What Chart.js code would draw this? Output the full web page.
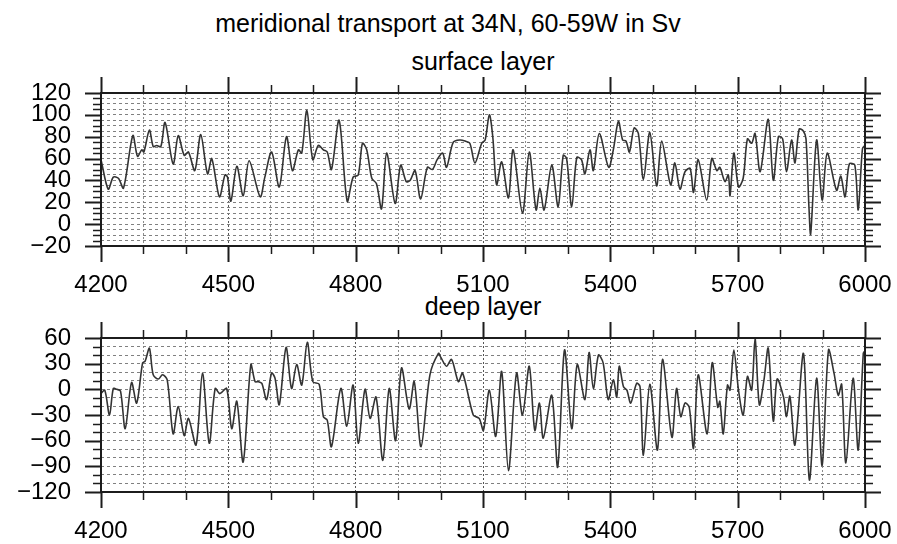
<!DOCTYPE html>
<html>
<head>
<meta charset="utf-8">
<script src="https://cdn.jsdelivr.net/npm/chart.js@4/dist/chart.umd.min.js"></script>
<style>
html,body{margin:0;padding:0;background:#fff;}
#wrap{position:relative;width:897px;height:544px;overflow:hidden;font-family:"Liberation Sans",Arial,sans-serif;color:#000;}
.t{position:absolute;white-space:nowrap;font-size:25px;line-height:25px;transform:translateX(-50%);}
.box{position:absolute;left:0;width:897px;}
canvas{display:block;}
</style>
</head>
<body>
<div id="wrap">
  <div class="t" style="left:448px;top:11px;">meridional transport at 34N, 60-59W in Sv</div>
  <div class="t" style="left:483px;top:49px;">surface layer</div>
  <div class="t" style="left:483px;top:294px;">deep layer</div>
  <div class="box" style="top:0;height:300px;"><canvas id="c1" width="897" height="300"></canvas></div>
  <div class="box" style="top:300px;height:244px;"><canvas id="c2" width="897" height="244"></canvas></div>
</div>
<script>
// ---- data ----
const surfaceYears = [4200,4217,4229,4241,4253,4275,4286,4296,4301,4314,4323,4331,4341,4351,4370,4382,4396,4406,4421,4435,4451,4461,4479,4492,4498,4506,4520,4535,4549,4575,4586,4602,4620,4637,4651,4665,4673,4685,4699,4712,4724,4733,4743,4761,4780,4794,4806,4816,4826,4838,4849,4861,4873,4893,4906,4919,4928,4940,4953,4969,4981,4992,5005,5014,5030,5046,5058,5069,5081,5097,5105,5115,5123,5132,5144,5160,5171,5193,5209,5225,5234,5244,5262,5277,5289,5297,5309,5321,5332,5340,5352,5360,5374,5396,5407,5419,5429,5437,5445,5456,5466,5478,5493,5509,5521,5542,5552,5564,5576,5588,5596,5607,5627,5639,5651,5658,5670,5678,5682,5691,5702,5713,5723,5733,5741,5753,5772,5784,5796,5806,5815,5827,5835,5845,5855,5861,5868,5872,5886,5899,5911,5933,5943,5953,5963,5976,5984,5994,6000];
const surfaceValues = [59,32,43,42,33,81,62,68,66,86,71,72,71,93,55,81,63,66,49,82,46,60,25,45,43,21,53,26,58,25,43,66,34,80,49,68,65,104,59,72,68,66,50,95,21,43,45,74,68,42,37,14,65,19,54,39,40,49,23,52,50,59,65,52,75,77,76,74,56,74,77,100,80,36,57,24,68,10,66,13,33,13,54,16,63,60,16,61,59,46,68,49,83,52,68,94,77,76,66,88,83,41,84,35,76,36,56,32,48,51,29,59,22,60,49,52,39,45,26,65,34,42,78,74,83,48,96,40,80,78,48,77,56,87,85,78,15,-9,77,22,65,31,44,25,55,54,13,69,72];

const deepYears = [4200,4209,4220,4229,4237,4246,4257,4272,4284,4298,4304,4314,4323,4335,4345,4356,4370,4382,4396,4406,4424,4439,4455,4469,4480,4496,4508,4520,4535,4553,4563,4571,4579,4590,4602,4610,4620,4636,4649,4661,4673,4686,4699,4714,4724,4733,4743,4765,4779,4794,4806,4822,4834,4848,4864,4879,4894,4908,4926,4938,4954,4975,4995,5000,5014,5026,5042,5052,5077,5091,5101,5115,5130,5144,5160,5179,5193,5209,5222,5233,5242,5262,5276,5292,5309,5322,5340,5350,5360,5372,5383,5395,5407,5415,5421,5431,5439,5448,5462,5470,5478,5493,5511,5523,5545,5556,5566,5576,5586,5596,5607,5628,5640,5653,5658,5666,5676,5682,5691,5702,5713,5723,5733,5741,5751,5762,5772,5784,5793,5808,5815,5823,5835,5855,5869,5886,5899,5914,5927,5937,5945,5955,5972,5984,5996,6000];
const deepValues = [-5,-1,-30,1,0,-2,-46,8,-16,31,33,48,17,12,17,11,-52,-20,-54,-34,-65,19,-63,1,-5,1,-46,-14,-85,29,9,9,7,-12,19,13,-18,49,1,29,5,55,9,6,-32,-36,-67,1,-43,5,-63,0,-34,-9,-83,1,-60,25,-23,9,-67,17,42,38,27,35,9,19,-30,-34,-48,-1,-55,21,-95,19,-30,27,-48,-16,-57,-7,-91,46,-46,29,-12,43,1,40,31,-12,11,-9,27,3,-1,-16,7,3,-77,6,-71,35,-56,1,-32,-16,-21,-69,17,-52,31,-21,-14,-52,5,-1,46,-1,-30,15,-1,60,-18,11,48,-37,12,-9,-32,-8,-65,42,-106,13,-89,46,19,-7,6,-86,13,-71,42,45];

// axis settings
const xRange = [4200, 6000];
const xMinorStep = 100, xMajorStep = 300;
const surfaceRange = [-20, 120], surfaceMinor = 5, surfaceMajor = 20;
const deepRange = [-120, 60], deepMinor = 10, deepMajor = 30;

// ---- frame + outward tick marks, drawn from the chart's own scales ----
const framePlugin = {
  id: 'frame',
  afterDraw(chart, args, o) {
    const {ctx, chartArea: a, scales: {x, y}} = chart;
    ctx.save();
    ctx.strokeStyle = '#1c1c1c';
    ctx.setLineDash([]);
    const near = (v, m) => Math.abs(v / m - Math.round(v / m)) < 1e-6;
    for (let v = o.xMin; v <= o.xMax + 1e-6; v += o.xStep) {
      const px = Math.round(x.getPixelForValue(v)) + 0.5;
      const major = near(v, o.xMajor);
      const len = major ? 16 : 8;
      ctx.lineWidth = major ? 2 : 1.5;
      ctx.beginPath();
      ctx.moveTo(px, a.bottom); ctx.lineTo(px, a.bottom + len);
      ctx.moveTo(px, a.top); ctx.lineTo(px, a.top - len);
      ctx.stroke();
    }
    for (let v = o.yMin; v <= o.yMax + 1e-6; v += o.yStep) {
      const py = Math.round(y.getPixelForValue(v)) + 0.5;
      const major = near(v, o.yMajor);
      const len = major ? 16 : 8;
      ctx.lineWidth = major ? 2 : 1.5;
      ctx.beginPath();
      ctx.moveTo(a.left - len, py); ctx.lineTo(a.left, py);
      ctx.moveTo(a.right, py); ctx.lineTo(a.right + len, py);
      ctx.stroke();
    }
    ctx.lineWidth = 2;
    ctx.strokeRect(a.left, a.top, a.right - a.left, a.bottom - a.top);
    ctx.restore();
  }
};

const fam = '"Liberation Sans", Arial, sans-serif';
const fmt = v => String(v).replace('-', '\u2212');

function makeChart(id, years, values, yRange, yMinor, yMajor, padTop, xHeight) {
  const pts = years.map((yr, i) => ({x: yr, y: values[i]}));
  return new Chart(document.getElementById(id), {
    type: 'line',
    data: {
      datasets: [{
        data: pts,
        borderColor: '#333333',
        borderWidth: 1.6,
        pointRadius: 0,
        tension: 0.3,
        fill: false
      }]
    },
    options: {
      responsive: false,
      animation: false,
      events: [],
      layout: {padding: {top: padTop, right: 32, left: 0, bottom: 0}},
      plugins: {
        legend: {display: false},
        tooltip: {enabled: false},
        frame: {xMin: xRange[0], xMax: xRange[1], xStep: xMinorStep, xMajor: xMajorStep,
                yMin: yRange[0], yMax: yRange[1], yStep: yMinor, yMajor: yMajor}
      },
      scales: {
        x: {
          type: 'linear',
          min: xRange[0], max: xRange[1],
          afterFit: s => { s.height = xHeight; s.paddingLeft = 0; s.paddingRight = 0; },
          ticks: {
            stepSize: xMinorStep, autoSkip: false, maxRotation: 0,
            padding: 25, color: '#000',
            font: {family: fam, size: 24},
            callback: v => (v % xMajorStep === 0 ? fmt(v) : '')
          },
          grid: {
            drawTicks: false,
            color: c => (c.tick && c.tick.value % xMajorStep === 0) ? '#555' : '#8c8c8c',
            lineWidth: 1
          },
          border: {display: false, dash: [2, 2]}
        },
        y: {
          min: yRange[0], max: yRange[1],
          afterFit: s => { s.width = 101; s.paddingTop = 0; s.paddingBottom = 0; },
          ticks: {
            stepSize: yMinor, autoSkip: false,
            padding: 30, color: '#000',
            font: {family: fam, size: 24},
            callback: v => (v % yMajor === 0 ? fmt(v) : '')
          },
          grid: {drawTicks: false, color: '#808080', lineWidth: 1},
          border: {display: false, dash: [3, 3]}
        }
      }
    },
    plugins: [framePlugin]
  });
}

makeChart('c1', surfaceYears, surfaceValues, surfaceRange, surfaceMinor, surfaceMajor, 93, 54);
makeChart('c2', deepYears, deepValues, deepRange, deepMinor, deepMajor, 38, 52);
</script>
</body>
</html>
